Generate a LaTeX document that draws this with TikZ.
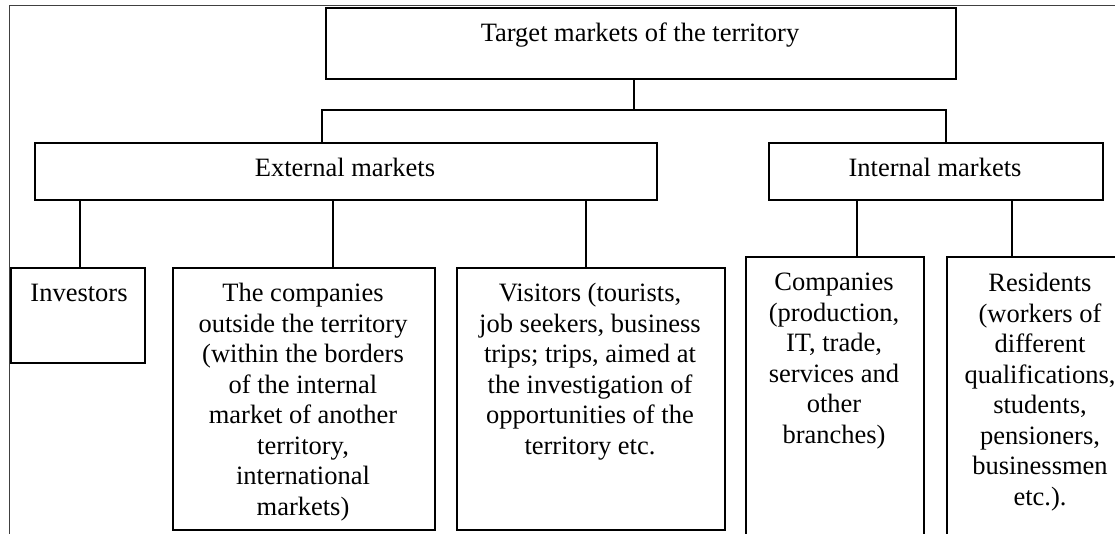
\documentclass[tikz,border=0pt]{standalone}
\usepackage{fontspec}
\setmainfont{Liberation Serif}
\begin{document}
\begin{tikzpicture}[x=1pt,y=-1pt,
  box/.style={draw, line width=1.6pt, inner sep=0pt, anchor=north west},
  lbl/.style={anchor=north, inner sep=0pt, align=center, font=\fontsize{26.5}{30.5}\selectfont},
  conn/.style={line width=1.5pt},
  frame/.style={line width=1pt, black!75}]
\useasboundingbox (0,0) rectangle (1115,533);
\clip (0,0) rectangle (1115,533);
\fill[white] (0,0) rectangle (1115,533);
% outer frame
\draw[frame] (9,540) -- (9,5) -- (1120,5);
% boxes
\node[box, minimum width=630pt, minimum height=71pt] (top) at (325,7) {};
\node[box, minimum width=622pt, minimum height=57pt] (ext) at (34,142) {};
\node[box, minimum width=334pt, minimum height=57pt] (int) at (768,142) {};
\node[box, minimum width=134pt, minimum height=95pt] (inv) at (10,267) {};
\node[box, minimum width=262pt, minimum height=262pt] (comp) at (172,267) {};
\node[box, minimum width=268pt, minimum height=262pt] (vis) at (456,267) {};
\node[box, minimum width=178pt, minimum height=300pt] (icomp) at (745,256) {};
\node[box, minimum width=188pt, minimum height=300pt] (res) at (946,256) {};
% texts
\node[lbl] (ttop) at (640,23) {Target markets of the territory};
\node[lbl] (text) at (345,158) {External markets};
\node[lbl] (tint) at (935,158) {Internal markets};
\node[lbl] (tinv) at (79,284) {Investors};
\node[lbl] (tcomp) at (303,283) {The companies\\outside the territory\\(within the borders\\of the internal\\market of another\\territory,\\international\\markets)};
\node[lbl] (tvis) at (590,283) {Visitors (tourists,\\job seekers, business\\trips; trips, aimed at\\the investigation of\\opportunities of the\\territory etc.};
\node[lbl] (ticomp) at (834,273) {Companies\\(production,\\IT, trade,\\services and\\other\\branches)};
\node[lbl] (tres) at (1040,273) {Residents\\(workers of\\different\\qualifications,\\students,\\pensioners,\\businessmen\\etc.).};
% connector x positions
\coordinate (j) at (634,110);
\coordinate (eL) at (322,110);
\coordinate (iR) at (946,110);
\coordinate (x1) at (80,0);
\coordinate (x2) at (333,0);
\coordinate (x3) at (586,0);
\coordinate (x4) at (857,0);
\coordinate (x5) at (1012,0);
% connectors
\draw[conn] (top.south -| j) -- (j);
\draw[conn] (ext.north -| eL) |- (iR) -- (int.north -| iR);
\draw[conn] (ext.south -| x1) -- (inv.north -| x1);
\draw[conn] (ext.south -| x2) -- (comp.north -| x2);
\draw[conn] (ext.south -| x3) -- (vis.north -| x3);
\draw[conn] (int.south -| x4) -- (icomp.north -| x4);
\draw[conn] (int.south -| x5) -- (res.north -| x5);
\end{tikzpicture}
\end{document}
